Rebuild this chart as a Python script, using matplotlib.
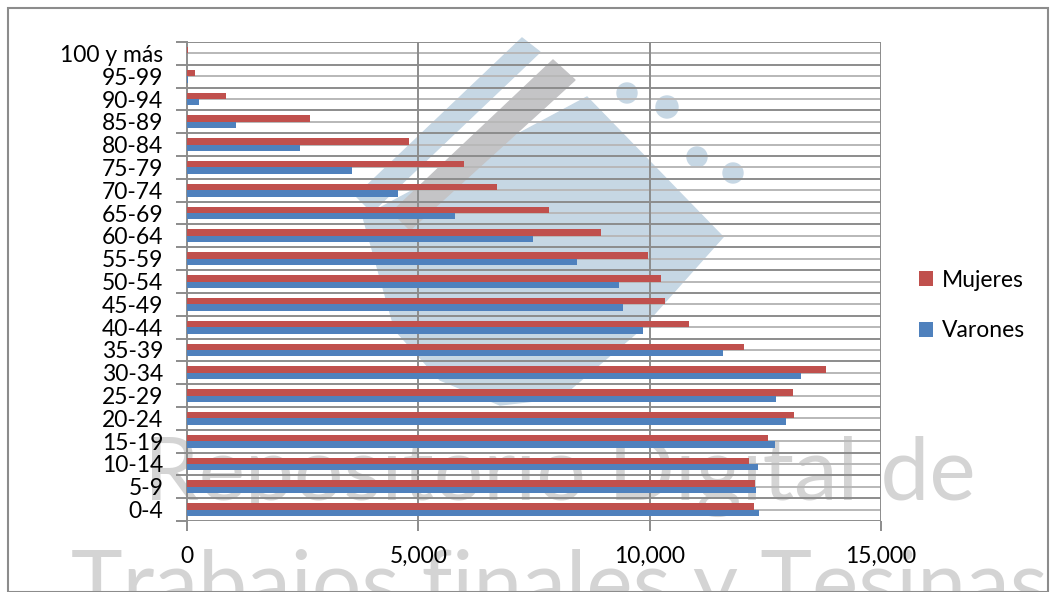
import numpy as np
import matplotlib.pyplot as plt
from matplotlib.patches import Rectangle, Polygon, Ellipse

plt.rcParams['font.family'] = ['Lato', 'DejaVu Sans']

grupos = ["0-4", "5-9", "10-14", "15-19", "20-24", "25-29", "30-34", "35-39",
          "40-44", "45-49", "50-54", "55-59", "60-64", "65-69", "70-74",
          "75-79", "80-84", "85-89", "90-94", "95-99", "100 y más"]
mujeres = [12250, 12280, 12140, 12550, 13110, 13090, 13820, 12040, 10860,
           10340, 10250, 9960, 8940, 7830, 6710, 5990, 4800, 2650, 845, 180, 30]
varones = [12370, 12300, 12340, 12710, 12940, 12740, 13270, 11580, 9860,
           9430, 9340, 8440, 7470, 5800, 4550, 3560, 2435, 1060, 250, 20, 5]

rojo = "#C0504D"
azul = "#4F81BD"
W, H = 1056, 592

fig = plt.figure(figsize=(10.56, 5.92), dpi=100)
ax = fig.add_axes([187 / W, 1 - 521 / H, 694 / W, 479 / H])
ax.patch.set_alpha(0)


def px(pts):
    # pixeles (desde arriba a la izquierda) a fraccion de figura
    return [(x / W, 1 - y / H) for x, y in pts]


# marca de agua: logo y texto
celeste = "#c6d7e4"
fig.patches.append(Polygon(px([(363, 217), (587, 97), (723, 237), (640, 330),
                               (560, 398), (500, 405), (440, 380), (395, 330)]),
                           closed=True, transform=fig.transFigure,
                           color=celeste, zorder=-2))
fig.patches.append(Polygon(px([(522, 38), (540, 52), (372, 212), (356, 196)]),
                           closed=True, transform=fig.transFigure,
                           color=celeste, zorder=-2))
fig.patches.append(Polygon(px([(553, 60), (575, 80), (410, 230), (392, 212)]),
                           closed=True, transform=fig.transFigure,
                           color="#c4c4c6", zorder=-2))
for cx, cy, d in [(627, 93, 20), (667, 107, 22), (697, 157, 20), (733, 173, 20)]:
    fig.patches.append(Ellipse((cx / W, 1 - cy / H), d / W, d / H,
                               transform=fig.transFigure, color=celeste,
                               zorder=-2))

fig.text(0.53, 0.195, "Repositorio Digital de", fontsize=63, color="#d4d4d4",
         ha="center", va="center", zorder=-1)
fig.text(0.53, 0.005, "Trabajos finales y Tesinas", fontsize=63,
         color="#d4d4d4", ha="center", va="center", zorder=-1)

y = np.arange(len(grupos))
h = 0.28
ax.barh(y + h / 2, mujeres, height=h, color=rojo, label="Mujeres", zorder=3)
ax.barh(y - h / 2, varones, height=h, color=azul, label="Varones", zorder=3)

# lineas de fondo
for b in np.arange(-0.5, len(grupos), 1):
    ax.axhline(b, color="#8c8c8c", lw=1.4, zorder=2)
for c in y:
    ax.axhline(c, color="#b8b8b8", lw=1.4, zorder=2)
for xv in [5000, 10000, 15000]:
    ax.axvline(xv, color="#8c8c8c", lw=1.4, zorder=2)

ax.set_xlim(0, 15000)
ax.set_ylim(-0.5, len(grupos) - 0.5)
ax.set_yticks(y)
ax.set_yticklabels(grupos, fontsize=16.5)
ax.set_yticks(np.arange(-0.5, len(grupos), 1), minor=True)
ax.tick_params(axis="y", which="major", length=0, pad=17)
ax.tick_params(axis="y", which="minor", length=8, width=1.4, color="#8c8c8c")
ax.set_xticks([0, 5000, 10000, 15000])
ax.set_xticklabels(["0", "5,000", "10,000", "15,000"], fontsize=16.5)
ax.tick_params(axis="x", length=7, width=1.4, color="#8c8c8c", pad=11)
for s in ["top", "right", "bottom"]:
    ax.spines[s].set_visible(False)
ax.spines["left"].set_color("#8c8c8c")
ax.spines["left"].set_linewidth(1.4)

ax.legend(loc="center left", bbox_to_anchor=(1.025, 0.45), frameon=False,
          fontsize=16.5, handlelength=0.6, handleheight=0.6, labelspacing=1.3,
          handletextpad=0.4)

fig.patches.append(Rectangle((8 / W, 0), 1040 / W, 1 - 8 / H,
                             transform=fig.transFigure, fill=False,
                             edgecolor="#8c8c8c", lw=1.5))

fig.savefig("out.png", dpi=100)
